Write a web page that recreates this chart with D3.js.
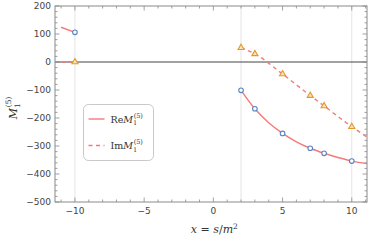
<!DOCTYPE html>
<html>
<head>
<meta charset="utf-8">
<script src="https://cdn.jsdelivr.net/npm/d3@7"></script>
<style>
  body { margin: 0; background: #fff; }
  svg { display: block; }
  .tick-label { font-family: "DejaVu Sans", sans-serif; font-size: 9px; fill: #444; }
  .serif { font-family: "DejaVu Serif", "Liberation Serif", serif; fill: #333; }
</style>
</head>
<body>
<div id="chart"></div>
<script>
// data
const reMarkX = [-10, 2, 3, 5, 7, 8, 10];
const reMarkY = [106, -101, -167, -255, -308, -326, -354];
const imMarkX = [-10, 2, 3, 5, 7, 8, 10];
const imMarkY = [0, 51, 29, -43, -120, -157, -231];

// curves as drawn (left piece and right piece)
const reLeftX = [-11, -10];
const reLeftY = [124, 106];
const reRightX = [2, 3, 4, 5, 6, 7, 8, 9, 10, 11.1];
const reRightY = [-101, -167, -217, -255, -285, -308, -326, -341, -354, -363];
const imLeftX = [-11, -10];
const imLeftY = [0, 0];
const imRightX = [2, 3, 5, 7, 8, 10, 11.1];
const imRightY = [51, 29, -43, -120, -157, -231, -268];

const xTicks = [-10, -5, 0, 5, 10];
const yTicks = [200, 100, 0, -100, -200, -300, -400, -500];
const gridX = [-10, 2, 10];

const W = 374, H = 242;
const margin = { top: 6, right: 7, bottom: 40, left: 55 };
const width = W - margin.left - margin.right;
const height = H - margin.top - margin.bottom;

const svg = d3.select("#chart").append("svg")
    .attr("width", W)
    .attr("height", H);

const g = svg.append("g")
    .attr("transform", "translate(" + margin.left + "," + margin.top + ")");

const x = d3.scaleLinear().domain([-11.44, 11.1]).range([0, width]);
const y = d3.scaleLinear().domain([-500, 200]).range([height, 0]);

// light vertical gridlines
g.selectAll(".grid")
    .data(gridX)
    .join("line")
    .attr("x1", d => x(d)).attr("x2", d => x(d))
    .attr("y1", 0).attr("y2", height)
    .attr("stroke", "#e4e4e4")
    .attr("stroke-width", 1);

// zero line
g.append("line")
    .attr("x1", 0).attr("x2", width)
    .attr("y1", y(0)).attr("y2", y(0))
    .attr("stroke", "#444")
    .attr("stroke-width", 1);

const frame = "#8a8a8a";

// inward ticks on all four sides
const xMinor = d3.range(-11, 12, 1).filter(d => !xTicks.includes(d));
const yMinor = d3.range(-500, 201, 20).filter(d => !yTicks.includes(d));

function xTickMarks(vals, len) {
    [0, height].forEach(base => {
        g.append("g").selectAll("line")
            .data(vals)
            .join("line")
            .attr("x1", d => x(d)).attr("x2", d => x(d))
            .attr("y1", base).attr("y2", base === 0 ? len : base - len)
            .attr("stroke", frame).attr("stroke-width", 0.8);
    });
}
function yTickMarks(vals, len) {
    [0, width].forEach(base => {
        g.append("g").selectAll("line")
            .data(vals)
            .join("line")
            .attr("y1", d => y(d)).attr("y2", d => y(d))
            .attr("x1", base).attr("x2", base === 0 ? len : base - len)
            .attr("stroke", frame).attr("stroke-width", 0.8);
    });
}
xTickMarks(xTicks, 4.5);
xTickMarks(xMinor, 2.5);
yTickMarks(yTicks, 4.5);
yTickMarks(yMinor, 2.5);

// frame
g.append("rect")
    .attr("width", width).attr("height", height)
    .attr("fill", "none")
    .attr("stroke", frame)
    .attr("stroke-width", 1);

// tick labels
const fmt = d => d < 0 ? "\u2212" + Math.abs(d) : String(d);
g.selectAll(".xl")
    .data(xTicks)
    .join("text")
    .attr("class", "tick-label")
    .attr("x", d => x(d))
    .attr("y", height + 12)
    .attr("text-anchor", "middle")
    .text(fmt);
g.selectAll(".yl")
    .data(yTicks)
    .join("text")
    .attr("class", "tick-label")
    .attr("x", -4)
    .attr("y", d => y(d) + 3.2)
    .attr("text-anchor", "end")
    .text(fmt);

// lines
const red = "#f47a7a";
const line = d3.line()
    .x(d => x(d[0]))
    .y(d => y(d[1]))
    .curve(d3.curveMonotoneX);

const zip = (a, b) => a.map((v, i) => [v, b[i]]);
g.append("clipPath").attr("id", "clip")
    .append("rect").attr("width", width).attr("height", height);

const lines = g.append("g").attr("clip-path", "url(#clip)");
[zip(reLeftX, reLeftY), zip(reRightX, reRightY)].forEach(pts => {
    lines.append("path")
        .attr("d", line(pts))
        .attr("fill", "none")
        .attr("stroke", red)
        .attr("stroke-width", 1.4);
});
[zip(imLeftX, imLeftY), zip(imRightX, imRightY)].forEach(pts => {
    lines.append("path")
        .attr("d", line(pts))
        .attr("fill", "none")
        .attr("stroke", red)
        .attr("stroke-width", 1.4)
        .attr("stroke-dasharray", "4,3.5");
});

// markers
g.selectAll(".tri")
    .data(zip(imMarkX, imMarkY))
    .join("path")
    .attr("d", d3.symbol().type(d3.symbolTriangle).size(16))
    .attr("transform", d => "translate(" + x(d[0]) + "," + y(d[1]) + ")")
    .attr("fill", "#fbe3b8")
    .attr("stroke", "#e39a2b")
    .attr("stroke-width", 1.1);

g.selectAll(".circ")
    .data(zip(reMarkX, reMarkY))
    .join("circle")
    .attr("cx", d => x(d[0]))
    .attr("cy", d => y(d[1]))
    .attr("r", 2.3)
    .attr("fill", "#fff")
    .attr("stroke", "#5b84c2")
    .attr("stroke-width", 1.1);

// legend
const lg = svg.append("g").attr("transform", "translate(83.5,104.5)");
lg.append("rect")
    .attr("width", 70).attr("height", 56)
    .attr("rx", 5).attr("ry", 5)
    .attr("fill", "#fff")
    .attr("stroke", "#bbb")
    .attr("stroke-width", 0.8);

const legendItems = [
    { label: "Re", dash: null, y: 14.5 },
    { label: "Im", dash: "4,3.5", y: 41 }
];
legendItems.forEach(item => {
    lg.append("line")
        .attr("x1", 5).attr("x2", 21)
        .attr("y1", item.y).attr("y2", item.y)
        .attr("stroke", red)
        .attr("stroke-width", 1.4)
        .attr("stroke-dasharray", item.dash);
    const t = lg.append("text")
        .attr("class", "serif")
        .attr("x", 27)
        .attr("y", item.y + 3.5)
        .attr("font-size", "9.5px");
    t.append("tspan").text(item.label);
    t.append("tspan").attr("font-style", "italic").text("M");
    t.append("tspan").attr("font-size", "6.5px").attr("dy", 2.5).text("1");
    t.append("tspan").attr("font-size", "6.5px").attr("dx", -3.5).attr("dy", -7.5).text("(5)");
});

// axis titles
const xt = svg.append("text")
    .attr("class", "serif")
    .attr("x", margin.left + x(0) + 1)
    .attr("y", 233)
    .attr("text-anchor", "middle")
    .attr("font-size", "11px");
xt.append("tspan").attr("font-style", "italic").text("x");
xt.append("tspan").text(" = ");
xt.append("tspan").attr("font-style", "italic").text("s");
xt.append("tspan").text("/");
xt.append("tspan").attr("font-style", "italic").text("m");
xt.append("tspan").attr("font-size", "7.5px").attr("dy", -4).text("2");

const yt = svg.append("text")
    .attr("class", "serif")
    .attr("transform", "translate(17,108) rotate(-90)")
    .attr("text-anchor", "middle")
    .attr("font-size", "11px");
yt.append("tspan").attr("font-style", "italic").text("M");
yt.append("tspan").attr("font-size", "7.5px").attr("dy", 3).text("1");
yt.append("tspan").attr("font-size", "7.5px").attr("dx", -4).attr("dy", -9).text("(5)");
</script>
</body>
</html>
